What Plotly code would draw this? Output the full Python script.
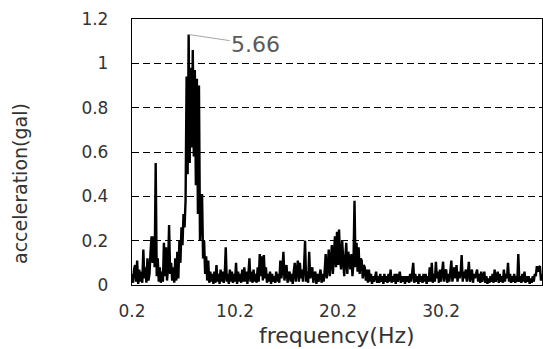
import numpy as np
import plotly.graph_objects as go

# Frequency grid (Hz): start, step, and acceleration values
freq_start = 0.2
freq_step = 0.1
accel = [
    0.05, 0.01, 0.07, 0.09, 0.015, 0.11, 0.005, 0.07, 0.015, 0.06,
    0.01, 0.16, 0.03, 0.08, 0.01, 0.12, 0.02, 0.05, 0.15, 0.22,
    0.10, 0.22, 0.08, 0.55, 0.04, 0.12, 0.015, 0.08, 0.01, 0.06,
    0.015, 0.19, 0.04, 0.17, 0.02, 0.08, 0.27, 0.05, 0.10, 0.02,
    0.08, 0.01, 0.12, 0.02, 0.15, 0.03, 0.20, 0.10, 0.26, 0.18,
    0.32, 0.26, 0.38, 0.94, 0.50, 1.13, 0.55, 0.98, 0.62, 1.06,
    0.58, 0.97, 0.45, 0.93, 0.32, 0.90, 0.20, 0.30, 0.41, 0.12,
    0.20, 0.05, 0.13, 0.02, 0.11, 0.01, 0.06, 0.015, 0.05, 0.005,
    0.06, 0.01, 0.09, 0.015, 0.05, 0.005, 0.07, 0.015, 0.06, 0.01,
    0.04, 0.17, 0.015, 0.05, 0.005, 0.07, 0.015, 0.06, 0.01, 0.05,
    0.015, 0.10, 0.005, 0.06, 0.015, 0.05, 0.01, 0.07, 0.015, 0.08,
    0.015, 0.06, 0.005, 0.05, 0.12, 0.015, 0.06, 0.01, 0.07, 0.015,
    0.05, 0.01, 0.08, 0.015, 0.14, 0.04, 0.13, 0.02, 0.135, 0.03,
    0.08, 0.01, 0.05, 0.015, 0.06, 0.005, 0.05, 0.015, 0.04, 0.01,
    0.06, 0.015, 0.05, 0.01, 0.11, 0.03, 0.07, 0.15, 0.02, 0.06,
    0.09, 0.01, 0.05, 0.06, 0.015, 0.05, 0.005, 0.06, 0.10, 0.015,
    0.06, 0.11, 0.015, 0.10, 0.03, 0.07, 0.015, 0.08, 0.20, 0.015,
    0.06, 0.01, 0.15, 0.03, 0.06, 0.08, 0.01, 0.05, 0.06, 0.005,
    0.05, 0.015, 0.04, 0.07, 0.01, 0.05, 0.015, 0.06, 0.14, 0.03,
    0.08, 0.16, 0.04, 0.12, 0.18, 0.05, 0.15, 0.22, 0.08, 0.24,
    0.09, 0.25, 0.11, 0.07, 0.20, 0.09, 0.04, 0.12, 0.19, 0.05,
    0.15, 0.11, 0.07, 0.14, 0.04, 0.10, 0.38, 0.08, 0.19, 0.06,
    0.17, 0.05, 0.12, 0.11, 0.03, 0.09, 0.08, 0.02, 0.07, 0.01,
    0.07, 0.015, 0.05, 0.005, 0.04, 0.015, 0.05, 0.06, 0.01, 0.04,
    0.01, 0.05, 0.015, 0.04, 0.005, 0.05, 0.015, 0.04, 0.01, 0.05,
    0.015, 0.07, 0.01, 0.04, 0.015, 0.05, 0.005, 0.05, 0.015, 0.04,
    0.06, 0.01, 0.04, 0.015, 0.04, 0.005, 0.04, 0.015, 0.04, 0.01,
    0.05, 0.015, 0.06, 0.10, 0.01, 0.05, 0.015, 0.04, 0.005, 0.05,
    0.015, 0.04, 0.01, 0.05, 0.015, 0.05, 0.005, 0.04, 0.015, 0.08,
    0.015, 0.10, 0.01, 0.05, 0.015, 0.105, 0.03, 0.06, 0.01, 0.07,
    0.015, 0.05, 0.105, 0.015, 0.06, 0.07, 0.01, 0.05, 0.015, 0.06,
    0.11, 0.015, 0.05, 0.08, 0.03, 0.09, 0.015, 0.06, 0.03, 0.05,
    0.135, 0.015, 0.06, 0.03, 0.07, 0.015, 0.05, 0.105, 0.015, 0.05,
    0.07, 0.01, 0.05, 0.03, 0.06, 0.07, 0.015, 0.05, 0.01, 0.06,
    0.015, 0.04, 0.06, 0.01, 0.04, 0.005, 0.03, 0.01, 0.04, 0.015,
    0.05, 0.01, 0.07, 0.015, 0.04, 0.06, 0.01, 0.05, 0.015, 0.04,
    0.01, 0.07, 0.015, 0.05, 0.03, 0.10, 0.015, 0.05, 0.01, 0.04,
    0.015, 0.05, 0.01, 0.04, 0.015, 0.14, 0.015, 0.04, 0.01, 0.05,
    0.015, 0.06, 0.01, 0.04, 0.015, 0.04, 0.005, 0.03, 0.01, 0.04,
    0.015, 0.05, 0.04, 0.085, 0.06, 0.08, 0.085, 0.02, 0.05,
]
freq = np.round(freq_start + freq_step * np.arange(len(accel)), 2)

x_ticks = [0.2, 10.2, 20.2, 30.2]
x_ticktext = ["0.2", "10.2", "20.2", "30.2"]
y_ticks = [0, 0.2, 0.4, 0.6, 0.8, 1.0, 1.2]
y_ticktext = ["0", "0.2", "0.4", "0.6", "0.8", "1", "1.2"]
peak_label = "5.66"
x_title = "frequency(Hz)"
y_title = "acceleration(gal)"

FONT = "DejaVu Sans"
TXT = "#333333"

fig = go.Figure()
fig.add_trace(go.Scatter(x=freq, y=accel, mode="lines",
                         line=dict(color="black", width=2.4),
                         hoverinfo="skip", showlegend=False))

pk = int(np.argmax(accel))
fig.add_annotation(x=freq[pk], y=accel[pk], xref="x", yref="y",
                   text=peak_label, showarrow=True, arrowhead=0,
                   arrowwidth=1, arrowcolor="#a6a6a6", ax=67, ay=10,
                   font=dict(family=FONT, size=22, color="#595959"))
fig.add_annotation(x=0.5, y=-0.19, xref="paper", yref="paper",
                   text=x_title, showarrow=False, yanchor="middle",
                   font=dict(family=FONT, size=22, color=TXT))
fig.add_annotation(x=-0.273, y=0.38, xref="paper", yref="paper",
                   text=y_title, showarrow=False, textangle=-90,
                   xanchor="center", yanchor="middle",
                   font=dict(family=FONT, size=19, color=TXT))

fig.update_layout(
    width=543, height=349,
    margin=dict(l=132, r=1, t=19, b=64),
    paper_bgcolor="white", plot_bgcolor="white",
    showlegend=False,
    xaxis=dict(range=[0.2, 40.0], tickvals=x_ticks, ticktext=x_ticktext,
               showgrid=False, zeroline=False, showline=True,
               linecolor="black", linewidth=1.3, mirror=True, ticks="",
               ticklabelstandoff=10,
               tickfont=dict(family=FONT, size=17, color=TXT)),
    yaxis=dict(range=[0, 1.2], tickvals=y_ticks, ticktext=y_ticktext,
               showgrid=True, gridcolor="black", gridwidth=1.2,
               griddash="7px,4px", zeroline=False, showline=True,
               linecolor="black", linewidth=1.3, mirror=True, ticks="",
               ticklabelstandoff=19,
               tickfont=dict(family=FONT, size=17, color=TXT)),
)

fig.write_html("out.html")
